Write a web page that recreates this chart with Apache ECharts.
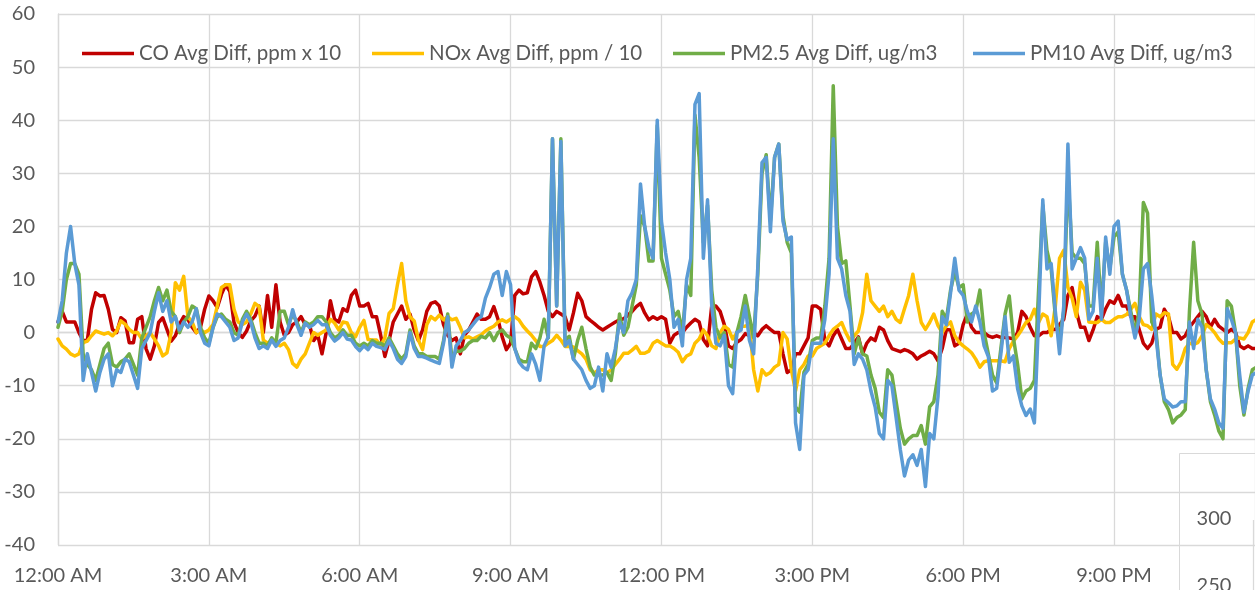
<!DOCTYPE html>
<html>
<head>
<meta charset="utf-8">
<title>Average pollutant differences over the day</title>
<script src="https://cdn.jsdelivr.net/npm/echarts@6/dist/echarts.min.js"></script>
<style>
  html, body { margin: 0; padding: 0; background: #fff; }
  #chart { width: 1255px; height: 590px; }
</style>
</head>
<body>
<div id="chart"></div>
<script>
// Readings every 5 minutes from midnight; one row per hour (12 values).
const STEP_MINUTES = 5;

const hourLabels = ['12:00 AM', '3:00 AM', '6:00 AM', '9:00 AM', '12:00 PM', '3:00 PM', '6:00 PM', '9:00 PM', '12:00 AM'];

const seriesNames = [
  'CO Avg Diff, ppm x 10',
  'NOx Avg Diff, ppm / 10',
  'PM2.5 Avg Diff, ug/m3',
  'PM10 Avg Diff, ug/m3'
];

const coDiff = [
  2, 4, 2, 2, 2, 0, -1.5, -1.5, 4.4, 7.5, 6.9, 7,
  4.4, 0.6, 0, 2.8, 2.2, -1.9, -1.9, 2.5, 3, -3, -5, -2.5,
  1.9, 2.8, 0.6, -1.6, -0.6, 1.6, 3, 2.5, 1, 0, 1, 4.4,
  6.9, 6, 4.7, 7.2, 9, 7.8, 1.9, 0, -0.9, 0.3, 2.2, 3.1,
  5, 0, 7, 1, 9, 2, -0.5, 0, 1.5, 2, 3, 1.5,
  1.5, -1.5, -0.5, -4, 0, 6, 2.5, 2, 4.5, 4, 7, 8,
  5, 5, 5.5, 3, 3, -0.5, -4.5, -1.5, 2, 3.5, 5, 2.5,
  3.5, 0.5, -1.5, 0.5, 4, 5.5, 5.8, 5, 1.5, -0.5, -1.5, -1,
  -4, -0.5, 0.5, 2, 3.5, 2.5, 2.5, 3, 4.9, 2.5, -0.8, -3.2,
  -2, 7, 8, 7.3, 7.5, 10.5, 11.5, 9.5, 7, 4, 3, 4,
  3.5, 3, 0.5, 3.7, 7.4, 6, 3, 2.3, 1.7, 1, 0.5, 1,
  1.5, 2, 2.4, 2.6, 3.3, 4, 4.9, 5.5, 3.7, 2.4, 3, 2.5,
  3, 2.5, -2, -0.5, 0, 0, 1, 1.8, 2.5, 2, -1.3, -2.5,
  5, 5, 4, 1.5, -2.5, -3, -1.8, -1.3, -0.2, -0.6, 0, -0.6,
  0.6, 1.3, 0.6, 0, 0, -4, -7.5, -7, -4, -4, -2.5, -1,
  5, 5, 4.4, -1.5, -2.5, -0.6, 0.6, -1.2, -3, -3, -2, -0.8,
  -4, -2, -1, -1.5, 1, 0.5, -1.5, -3, -3.3, -3.6, -3.2, -3.5,
  -4, -5, -4.4, -4, -3.5, -4, -5.3, -3, 0.6, 0.5, -2.5, -2,
  1.5, 3.5, 1, 0, 0, 0, -0.6, -0.9, -0.6, -0.9, -0.9, -1,
  -1.2, 0, 4, 3, 1, -0.6, -0.6, 0, 0, 0.6, 0.6, 1.5,
  2.5, 7, 8.5, 4, 1, 1, -1.5, 0.5, 3, 2.5, 4.5, 6,
  5.5, 7, 5, 5, 3, 3, 0.6, -2, -3, -2, 0.6, 1,
  4.4, 3, 0, 0, -1.2, -0.6, 1, 2, 3, 4, 3, 1,
  2.5, 1.2, 0.6, 0, 0.6, 0, -2.5, -3, -2.5, -3, -3, -3
];

const noxDiff = [
  -1.2, -2.5, -3.1, -4, -4.4, -4, -1.9, -1.6, -0.6, 0.3, 0, -0.3,
  0, -0.6, 0.3, 2.2, 1.6, 0.6, 0, 0, -1.2, -0.6, 0, -1.2,
  -2.5, -4.4, -3.8, 0, 9.4, 8, 10.6, 3, 2, 0, 0.5, 0,
  0.5, 1.5, 5, 8.5, 9, 9, 4.4, 2, 1.5, 2, 3.5, 5.5,
  4.9, -1.4, -2, -1.5, -2, -2.5, -2, -3.2, -5.8, -6.5, -5, -4,
  -2, 0, -0.5, 0, 0.5, 2.5, 1.8, 0.5, 2, 1.8, 0, -0.8,
  1, 2.3, -1.3, -1.4, -1.4, -2.5, -1, 3.6, 4.5, 9, 13, 6,
  3, 2.2, -1.4, -3.2, 1.5, 3, 2.4, 3.3, 2.4, 3, 2.4, 2.7,
  1, -1, -0.8, -1.2, -0.8, -0.4, 0.3, 0.8, 1.2, 2, 2.4, 2,
  2.5, 3, 2.4, 1.2, 0.3, -0.5, -1.5, -2.6, -2.6, -2, -1.5, -0.5,
  -1.4, -2.6, -2.6, -2.7, -3.4, -4, -5, -7, -7.6, -7, -7, -7.6,
  -7, -6, -5, -3.9, -3.9, -3.3, -2.6, -3.9, -3.9, -3.5, -2, -1.5,
  -2, -2.5, -2.5, -3, -3.7, -5.5, -4.4, -4, -2, -1.2, 0.5, -0.6,
  -2.5, -3, 0, 1.2, 0.6, -1.2, 0, 1.2, 1.2, 1.5, -7, -11,
  -7, -8, -7.5, -6.5, -6, 0, -1.2, -7, -11, -7, -6, -4.4,
  -4.4, -3, -2.5, -2, -0.6, 0.6, 1.2, 1.9, 0, -1.5, -0.6, 0.3,
  3.75, 11, 6, 5, 4, 5, 3, 4, 2.5, 1.9, 4.5, 7,
  11, 6, 1.9, 0.6, 1.9, 3.5, 1.3, 0, 1.3, 2, -0.6, -1.8,
  -2.5, -3.1, -3.8, -5, -6.5, -5.5, -5.3, -5.3, -5.3, -5.3, -5.5, -3,
  -1.6, -0.6, 0.6, 1.9, 2.5, 4.4, 1.9, 3.5, 3, -0.6, 5, 14,
  15.5, 8.5, 6.5, 3, 9.5, 8, 2, 1.9, 1.9, 2.5, 1.9, 1.9,
  2.5, 3, 3, 3.4, 4.4, 5.5, 3, 1.5, 1.3, 0.6, 3.5, 3,
  3.75, 3.5, -6, -6.9, -5.5, -3, -2, -2.2, -1.9, -0.6, 1.5, 0.9,
  0, -1.2, -2, -1.9, -1.9, -1.2, -1, -1.2, 0, 2, 2.5, 2.5
];

const pm25Diff = [
  1, 4, 10, 13, 13, 11, -4, -6, -7, -9, -6, -3,
  -2, -6, -6.5, -5.5, -5, -4, -6, -8, -1, 1, 3, 6,
  8.5, 6, 8, 4, 3, 0, 2, 3, 5, 4.5, 1, -1,
  -2, 1, 3, 3.5, 2.5, 2, 0, -0.5, 2.5, 4, 2.5, 0,
  -2, -2, -2.5, -1, -2, 4, 4, 1.5, 3.5, 2, 0, 2,
  1.5, 2, 3, 3, 2, 0, -1, -0.5, 0.5, -0.5, -0.5, -2,
  -2.5, -2, -2.5, -1.5, -2, -2, -2.5, -1, -2.5, -4, -5, -4,
  0.5, -2.5, -4, -4, -4.5, -4.5, -4.5, -5, -1.5, 3.5, -5, -3.5,
  -3.5, -3, -2, -1.5, -1.5, -0.7, -1, 0, -1.5, 0, 0.5, -0.5,
  -1, -3, -5, -5.5, -5.5, -2, -3, -1, 2.5, -1, 36.5, 5,
  36.5, -1.5, -0.7, -5, -1.5, 1, -3, -6.5, -8, -8, -8, -7.5,
  -9, -4, 3.5, -0.5, 1, 5, 9, 22, 20, 13.5, 13.5, 39,
  14, 11, 8, 3, 4, 0, 9, 7, 41, 33, 17, 24,
  8, 1, -1, 0, -6, -6.5, 0, 3, 7, 3, -1, 11,
  30, 33.5, 21, 33, 35.5, 22, 17, 15, -14, -15, -7.5, -6,
  -1.5, -1, -1, 5, 14, 46.5, 20, 13, 13.5, 5, -4, -1,
  -4, -4.4, -8, -10.5, -15, -16, -7, -8, -13, -18, -21, -20,
  -19.4, -19.4, -17.5, -21, -14, -13, -8, 4, 2.5, 8, 11.5, 8.5,
  9, 2, 3.5, 4, 8, 0, -4, -8, -9.5, -3, 3.5, 6.9,
  -1, -6, -12.5, -11, -10.5, -9, 8, 24, 15.5, 12, 3, -1,
  4, 30, 15, 14, 14, 13, 5, 5, 17, 4, 17, 12,
  18, 19, 11, 8, 4, 0, 4, 24.5, 22.5, 2, 0.5, -8,
  -13, -14.5, -17, -16, -15.5, -14.5, 4, 17, 6, 3.5, -7, -13,
  -15.5, -18.5, -20, 6, 5, 0, -10, -15.5, -10.5, -7, -6.5, -6
];

const pm10Diff = [
  2, 6, 15, 20, 13, 9, -9, -4, -7.5, -11, -7.5, -5,
  -4, -10, -7, -7.5, -5, -5.5, -8, -10.5, -3, -1.5, 0, 4,
  7.5, 4, 6, 2, 3, 0.5, 2, 1, 2, 4.5, 0, -2,
  -2.5, 1, 3.5, 3, 2, 1, -1.5, -1, 2, 3.5, 2, -1,
  -3, -2.5, -3, -1.4, -2.6, -1.5, -1, 1, 4.3, 1.5, -0.5, 1.8,
  1, 1.5, 2.3, 1.5, 1.5, -0.5, -1.6, -1, 0, -1.2, -1.4, -2.6,
  -3.4, -2.5, -3.2, -2, -2.6, -2.8, -3.2, -1.5, -3, -5, -5.8, -4.5,
  0, -3, -4.5, -4.5, -4.8, -5.2, -5.5, -5.8, -2, 3, -6.5, -2.5,
  -1.5, 0, 0.5, 1.5, 2.5, 3, 6.5, 8.5, 11, 11.5, 7, 11.5,
  9, -3, -5.5, -6.5, -7, -4, -6, -9, -2.5, -0.8, 36.5, 5,
  36, -2.5, -1.5, -5, -6, -7, -9, -10.5, -10, -6.5, -11, -4,
  -6.5, -3, 2, 0, 6, 7.5, 10, 28, 20, 16, 14, 40,
  21, 15, 10, 1, 2.5, -2.5, 10, 14, 43, 45, 14, 25,
  5, -2, -2.5, -0.5, -10, -11.5, 0, 0.5, 5, -1.5, -4, 12.5,
  32, 33, 19, 33, 35.5, 21, 17.5, 18, -17, -22, -8, -7,
  -2, -2, -2, 2.5, 11, 36.5, 14, 12, 7, 4, -6, -4,
  -5, -7, -11, -14, -19, -20, -9, -10, -16, -22, -27, -24,
  -23, -25, -22, -29, -19, -20, -12, 3, 1.5, 7.5, 14, 8,
  7, 4, 2, 5, 2, -2.5, -4.5, -11, -10.5, -4, 3, -5.6,
  -4.4, -10.6, -13.8, -15.6, -14.4, -17, 2.5, 25, 12, 13, 4, -4,
  5, 35.5, 12, 14, 16, 14, 2.5, 4, 14, 2.5, 18, 11,
  20, 21, 11, 8, 3, -1, 2.5, 12, 13, 7, -0.6, -8,
  -12.5, -13.2, -14, -13.8, -13, -13, 2, -3, 2.5, 1, -7, -12.5,
  -14.4, -17, -18, 4.5, 2.5, 0, -8, -15, -11, -8, -7.5, -7
];

const seriesValues = [coDiff, noxDiff, pm25Diff, pm10Diff];
const seriesColors = ['#C00000', '#FFC000', '#70AD47', '#5B9BD5'];

const FONT = 'Lato, "Open Sans", sans-serif';
const TEXT_COLOR = '#595959';
const GRID_COLOR = '#d9d9d9';

// The plot runs off the right edge a little before midnight:
// 150.86 px per 3 hours, 1197 px visible.
const VISIBLE_MINUTES = 1197 / 150.86 * 180;

// Pair each reading with its minute of the day
const toPoints = values => values.map((v, i) => [i * STEP_MINUTES, v]);

const legendLefts = [82, 372, 673, 973];

const chart = echarts.init(document.getElementById('chart'), null, { renderer: 'canvas' });

chart.setOption({
  animation: false,
  backgroundColor: '#ffffff',
  textStyle: { fontFamily: FONT },
  grid: { left: 58, top: 14, width: 1197, height: 531, containLabel: false, outerBoundsMode: 'none' },
  legend: seriesNames.map((name, k) => ({
    data: [name],
    left: legendLefts[k],
    top: 43,
    padding: 0,
    selectedMode: false,
    icon: 'rect',
    itemWidth: 52,
    itemHeight: 3.5,
    textStyle: { color: TEXT_COLOR, fontSize: 20.5, fontFamily: FONT }
  })),
  xAxis: {
    type: 'value',
    min: 0,
    max: VISIBLE_MINUTES,
    interval: 180,
    axisLine: { show: true, lineStyle: { color: GRID_COLOR, width: 1.3 } },
    axisTick: { show: false },
    splitLine: { show: true, lineStyle: { color: GRID_COLOR, width: 1.3 } },
    axisLabel: {
      color: TEXT_COLOR,
      fontSize: 20,
      fontFamily: FONT,
      margin: 21,
      showMaxLabel: false,
      formatter: v => hourLabels[Math.round(v / 180)]
    }
  },
  yAxis: {
    type: 'value',
    min: -40,
    max: 60,
    interval: 10,
    axisLine: { show: true, lineStyle: { color: GRID_COLOR, width: 1.3 } },
    axisTick: { show: false },
    splitLine: { show: true, lineStyle: { color: GRID_COLOR, width: 1.3 } },
    axisLabel: { color: TEXT_COLOR, fontSize: 20, fontFamily: FONT, margin: 23 }
  },
  series: seriesNames.map((name, k) => ({
    name,
    type: 'line',
    data: toPoints(seriesValues[k]),
    showSymbol: false,
    symbol: 'none',
    clip: true,
    color: seriesColors[k],
    lineStyle: { color: seriesColors[k], width: 3.5, join: 'round', cap: 'round' },
    z: 2 + k
  })),
  // Corner of the neighbouring chart that overlaps this one
  graphic: [
    {
      type: 'group',
      z: 100,
      children: [
        {
          type: 'rect',
          shape: { x: 1179.5, y: 453.5, width: 120, height: 160 },
          style: { fill: '#ffffff', stroke: GRID_COLOR, lineWidth: 1 }
        },
        {
          type: 'text',
          x: 1214, y: 519,
          style: { text: '300', fill: TEXT_COLOR, font: '20px ' + FONT, align: 'center', verticalAlign: 'middle' }
        },
        {
          type: 'text',
          x: 1214, y: 586,
          style: { text: '250', fill: TEXT_COLOR, font: '20px ' + FONT, align: 'center', verticalAlign: 'middle' }
        },
        {
          type: 'line',
          shape: { x1: 1253.5, y1: 520, x2: 1253.5, y2: 600 },
          style: { stroke: GRID_COLOR, lineWidth: 1.3 }
        }
      ]
    }
  ]
});
</script>
</body>
</html>
